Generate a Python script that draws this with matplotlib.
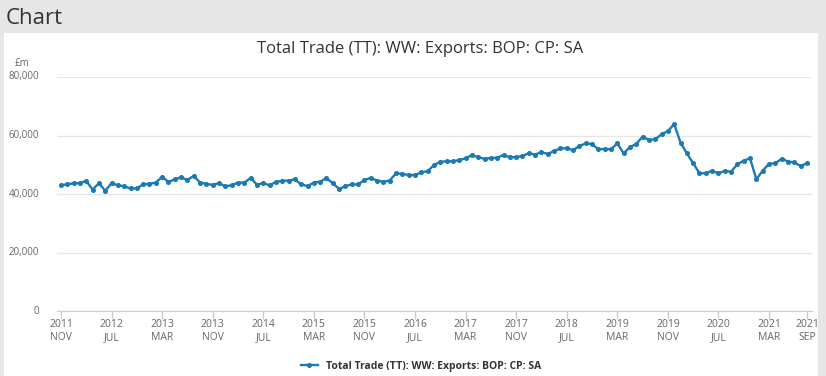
import numpy as np
import pandas as pd
import matplotlib.pyplot as plt
from matplotlib.patches import Rectangle

plt.rcParams['font.family'] = ['Open Sans', 'DejaVu Sans']

TITLE = 'Total Trade (TT): WW: Exports: BOP: CP: SA'

# monthly exports, £m, Nov 2011 .. Sep 2021
exports = [
    43.0, 43.3, 43.7, 43.7, 44.5, 41.5, 43.7, 41.1, 43.7, 43.0,
    42.6, 41.9, 41.9, 43.3, 43.5, 43.9, 45.9, 44.1, 45.0, 45.7,
    44.8, 46.2, 43.9, 43.5, 43.1, 43.7, 42.6, 43.0, 43.9, 43.9,
    45.5, 43.2, 43.7, 43.0, 44.1, 44.5, 44.6, 45.0, 43.3,
    42.7, 43.9, 44.2, 45.4, 43.7, 41.7, 42.7, 43.3, 43.3, 44.8,
    45.5, 44.6, 44.2, 44.6, 47.1, 46.9, 46.5, 46.5, 47.4, 47.8,
    49.9, 51.0, 51.2, 51.2, 51.6, 52.2, 53.3, 52.6, 52.0, 52.3,
    52.4, 53.3, 52.6, 52.6, 53.0, 53.9, 53.5, 54.3, 53.7, 54.7,
    55.6, 55.6,
    55.0, 56.4, 57.3, 57.1, 55.3, 55.4, 55.3, 57.3, 53.9, 56.0,
    57.1, 59.6, 58.5, 58.7, 60.4, 61.5, 63.9, 57.6, 53.9, 50.5,
    47.1, 47.1, 47.9, 47.1, 47.9, 47.6, 50.2, 51.4, 52.2, 45.0,
    48.0, 50.3, 50.5, 52.1, 51.1, 50.8, 49.6, 50.5,
]
exports = np.array(exports) * 1000

months = pd.period_range('2011-11', periods=len(exports), freq='M')
x = np.arange(len(exports))
tick_idx = list(range(0, len(exports) - 1, 8)) + [len(exports) - 1]
tick_labels = [f"{months[i].year}\n{months[i].strftime('%b').upper()}" for i in tick_idx]

W, H = 826, 376
fig = plt.figure(figsize=(W / 100, H / 100), dpi=100)
fig.patch.set_facecolor('#e6e6e6')
fig.patches.append(Rectangle((4 / W, 0), 814 / W, 1 - 33 / H,
                             transform=fig.transFigure, facecolor='white',
                             edgecolor='none', zorder=-10))

fig.text(6 / W, 1 - 19 / H, 'Chart', fontsize=16, color='#333333', va='center')
fig.text(420 / W, 1 - 49 / H, TITLE, fontsize=12, color='#333333',
         ha='center', va='center')

ax = fig.add_axes([57 / W, (H - 311) / H, (812 - 57) / W, (311 - 77) / H])
ax.set_facecolor('none')
line, = ax.plot(x, exports, color='#1b7ab2', lw=1.7, marker='o', ms=2.6,
                label=TITLE)

ax.set_xlim(-0.63, 118.8)
ax.set_ylim(0, 80000)
ax.set_yticks(np.arange(0, 80001, 20000))
ax.yaxis.set_major_formatter(plt.FuncFormatter(lambda v, p: f'{int(v):,}'))
ax.set_xticks(tick_idx)
ax.set_xticklabels(tick_labels, linespacing=1.25)

ax.grid(axis='y', color='#e6e6e6', lw=1)
ax.set_axisbelow(True)
for s in ['top', 'right', 'left']:
    ax.spines[s].set_visible(False)
ax.spines['bottom'].set_color('#cccccc')
ax.tick_params(axis='y', length=0, pad=13, labelsize=7, labelcolor='#666666')
ax.tick_params(axis='x', length=6, width=1, color='#cccccc', pad=0,
               labelsize=7.5, labelcolor='#666666')
for lab in ax.get_yticklabels():
    lab.set_verticalalignment('center')

fig.text(15 / W, 1 - 64 / H, '£m', fontsize=7, color='#666666',
         ha='left', va='center')

leg = fig.legend(handles=[line], loc='center', bbox_to_anchor=(421 / W, 10 / H),
                 frameon=False, handlelength=1.6, markerscale=1.0,
                 prop={'size': 7.5, 'weight': 'bold'})
for t in leg.get_texts():
    t.set_color('#333333')

fig.savefig('out.png', dpi=100, facecolor=fig.get_facecolor())
